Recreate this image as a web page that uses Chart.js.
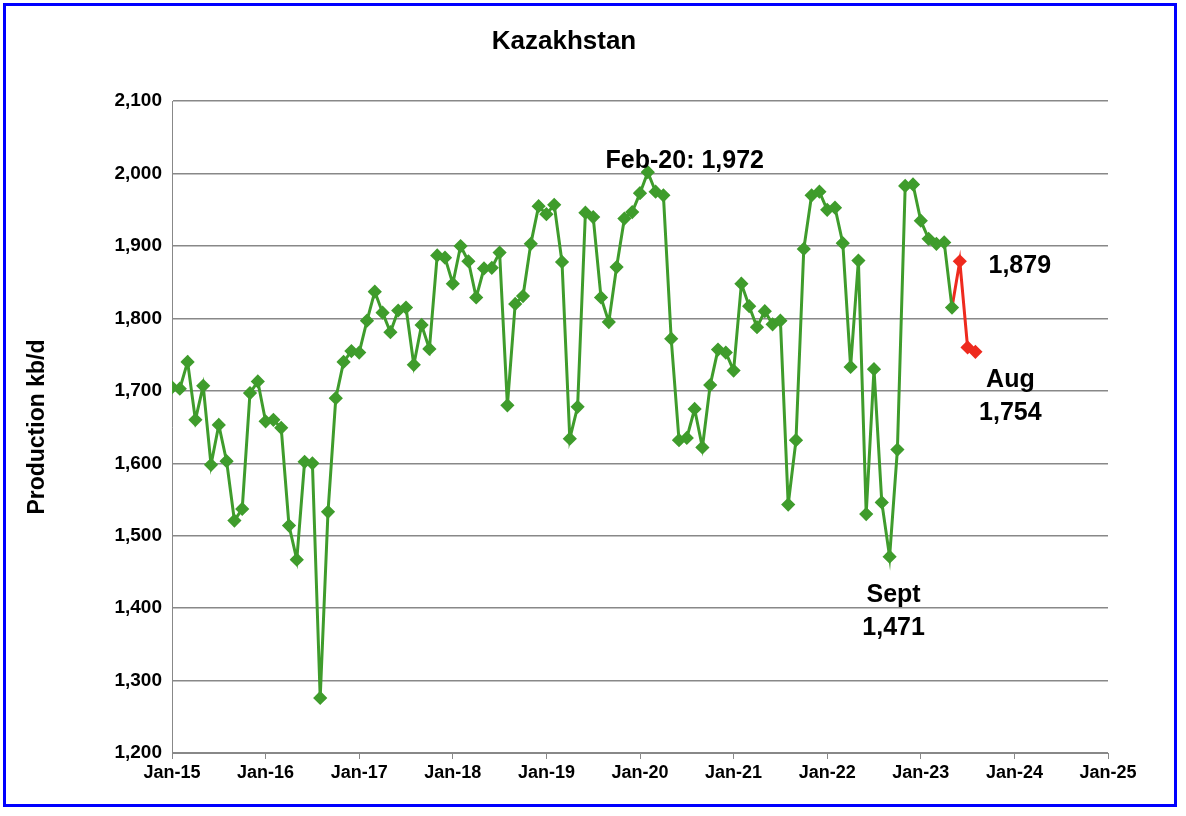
<!DOCTYPE html>
<html><head><meta charset="utf-8">
<script src="https://cdn.jsdelivr.net/npm/chart.js@4"></script>
<style>
html,body{margin:0;padding:0;background:#fff;}
#frame{position:absolute;left:3px;top:3px;width:1174px;height:804px;border:3px solid #0000ff;box-sizing:border-box;}
#wrap{position:absolute;left:20px;top:18px;width:1120px;height:780px;}
</style></head><body>
<div id="frame"></div>
<div id="wrap"><canvas id="c"></canvas></div>
<script>
const tickLabels = ["Jan-15","Jan-16","Jan-17","Jan-18","Jan-19","Jan-20","Jan-21","Jan-22","Jan-23","Jan-24","Jan-25"];
const greenValues = [
1705,1703,1740,1660,1707,1598,1653,1603,1521,1537,1697,1713,
1658,1660,1649,1514,1467,1602,1600,1276,1533,1690,1740,1755,
1753,1797,1837,1808,1781,1811,1815,1736,1791,1758,1887,1884,
1848,1900,1879,1829,1869,1870,1891,1680,1820,1831,1903,1955,
1944,1957,1878,1634,1678,1946,1940,1829,1795,1871,1938,1947,
1973,2002,1975,1970,1772,1632,1635,1675,1622,1708,1757,1753,
1728,1848,1817,1788,1810,1792,1797,1543,1632,1896,1970,1975,
1950,1953,1904,1733,1880,1530,1730,1546,1471,1619,1983,1985,
1935,1910,1903,1905,1815];
const redStartIndex = 100;
const redValues = [1815,1879,1760,1754];
const notes = [
 {x:61, y:2002, lines:["Feb-20: 1,972"], dx:37, dy:-4},
 {x:101, y:1879, lines:["1,879"], dx:60, dy:12},
 {x:103, y:1754, lines:["Aug","1,754"], dx:35, dy:35},
 {x:92, y:1471, lines:["Sept","1,471"], dx:4, dy:45}
];
const green = greenValues.map((v,i)=>({x:i,y:v}));
const red = redValues.map((v,i)=>({x:redStartIndex+i,y:v}));
const F='Arial, "Liberation Sans"';
const notePlugin = {id:'notes', afterDatasetsDraw(ch){
  const c=ch.ctx, xs=ch.scales.x, ys=ch.scales.y;
  c.save(); c.font='bold 25px '+F; c.fillStyle='#000'; c.textAlign='center';
  notes.forEach(n=>{const px=xs.getPixelForValue(n.x)+(n.dx||0), py=ys.getPixelForValue(n.y)+(n.dy||0);
    n.lines.forEach((l,i)=>c.fillText(l,px,py+i*33));});
  c.restore();}};
new Chart(document.getElementById('c'),{
 type:'line',
 data:{datasets:[
  {data:green,borderColor:'#3f9c2c',backgroundColor:'#3f9c2c',borderWidth:3,pointStyle:'rectRot',pointRadius:5,pointHoverRadius:5,tension:0},
  {data:red,borderColor:'#ee2a1e',backgroundColor:'#ee2a1e',borderWidth:3,pointStyle:'rectRot',pointRadius:[0,5,5,5],tension:0}
 ]},
 options:{responsive:true,maintainAspectRatio:false,animation:false,
  layout:{padding:{right:32,top:8}},
  plugins:{legend:{display:false},tooltip:{enabled:false},
   title:{display:true,text:'Kazakhstan',color:'#000',font:{size:26,weight:'bold',family:F},padding:{top:0,bottom:44}}},
  scales:{
   x:{type:'linear',min:0,max:120,afterFit:(s)=>{s.height=45;},
      ticks:{stepSize:12,color:'#000',font:{size:18,weight:'bold',family:F},maxRotation:0,
      callback:(v)=>tickLabels[v/12]},grid:{drawOnChartArea:false,color:'#888',tickLength:6},border:{color:'#888'}},
   y:{min:1200,max:2100,afterFit:(s)=>{s.width=152;},
      ticks:{stepSize:100,color:'#000',padding:10,font:{size:19,weight:'bold',family:F},
      callback:(v)=>v.toLocaleString('en-US')},grid:{color:'#888',lineWidth:1.5,tickLength:0},border:{color:'#888'},
      title:{display:true,text:'Production kb/d',color:'#000',font:{size:23,weight:'bold',family:F}}}
  }},
 plugins:[notePlugin]
});
</script></body></html>
